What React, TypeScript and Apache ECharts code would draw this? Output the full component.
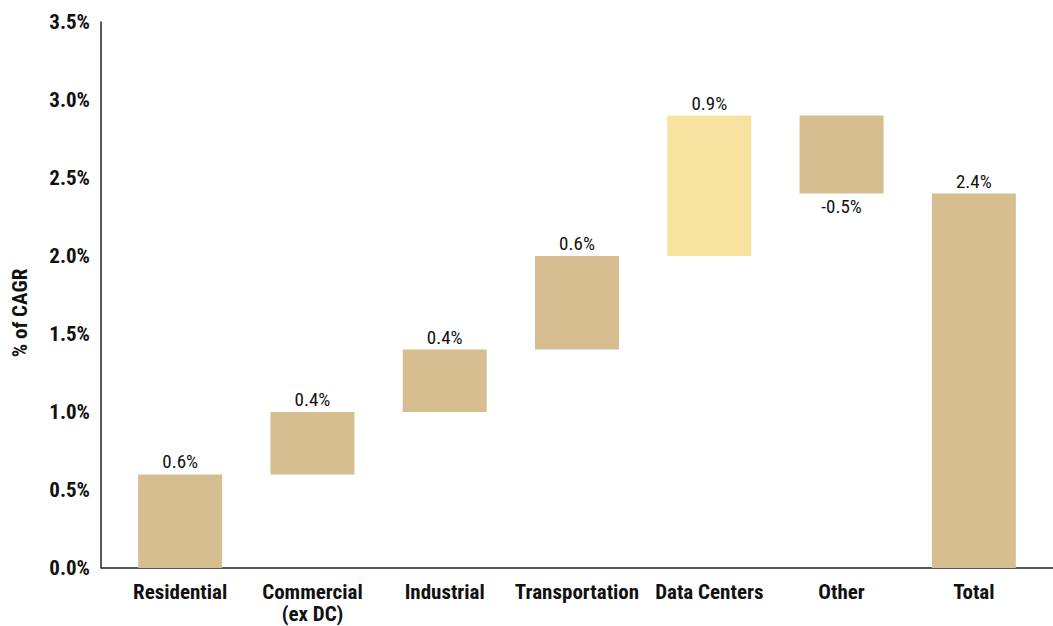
import React, { useEffect, useRef } from "react";
import * as echarts from "echarts";

const categories = ["Residential", "Commercial\n(ex DC)", "Industrial", "Transportation", "Data Centers", "Other", "Total"];
const changes = [0.6, 0.4, 0.4, 0.6, 0.9, -0.5];
const total = 2.4;
const yTicks = [0, 0.5, 1.0, 1.5, 2.0, 2.5, 3.0, 3.5];

const TAN = "#D7BE91";
const YELLOW = "#F7E2A0";
const FONT = "'Roboto Condensed', 'Arial Narrow', Roboto, sans-serif";

export default function App() {
  const ref = useRef<HTMLDivElement>(null);
  useEffect(() => {
    if (!ref.current) return;
    const chart = echarts.init(ref.current, null, { renderer: "svg" });
    const base: number[] = [];
    const vis: number[] = [];
    const labels: number[] = [];
    let run = 0;
    changes.forEach((c) => {
      const next = run + c;
      base.push(Math.min(run, next));
      vis.push(Math.abs(c));
      labels.push(c);
      run = next;
    });
    base.push(0);
    vis.push(total);
    labels.push(total);

    chart.setOption({
      animation: false,
      grid: { left: 114, right: 13, top: 22, bottom: 58 },
      xAxis: {
        type: "category",
        data: categories,
        axisLine: { show: false },
        axisTick: { show: false },
        axisLabel: {
          interval: 0,
          color: "#111",
          fontFamily: FONT,
          fontWeight: "bold",
          fontSize: 21,
          lineHeight: 22,
          margin: 13,
        },
      },
      yAxis: {
        type: "value",
        min: 0,
        max: 3.5,
        interval: 0.5,
        offset: 13,
        splitLine: { show: false },
        axisLine: { show: true, lineStyle: { color: "#222", width: 1.5 } },
        axisTick: { show: false },
        axisLabel: {
          color: "#111",
          fontFamily: FONT,
          fontWeight: "bold",
          fontSize: 21,
          margin: 11,
          formatter: (v: number) => yTicks.includes(v) ? v.toFixed(1) + "%" : "",
        },
      },
      graphic: [
        {
          type: "line",
          shape: { x1: 101, y1: 568, x2: 1053, y2: 568 },
          style: { stroke: "#222", lineWidth: 1.5 },
        },
        {
          type: "text",
          x: 20,
          y: 313,
          rotation: Math.PI / 2,
          style: {
            text: "% of CAGR",
            fill: "#111",
            font: "bold 21px " + FONT,
            align: "center",
            verticalAlign: "middle",
          },
        },
      ],
      series: [
        {
          type: "bar",
          stack: "w",
          data: base,
          barWidth: 84,
          itemStyle: { color: "transparent" },
          silent: true,
        },
        {
          type: "bar",
          stack: "w",
          barWidth: 84,
          data: vis.map((v, i) => ({
            value: v,
            itemStyle: { color: i === 4 ? YELLOW : TAN },
            label: { position: labels[i] < 0 ? "bottom" : "top" },
          })),
          label: {
            show: true,
            color: "#111",
            fontFamily: FONT,
            fontSize: 19,
            distance: 3,
            formatter: (p: any) => labels[p.dataIndex].toFixed(1) + "%",
          },
        },
      ],
    });
    return () => chart.dispose();
  }, []);
  return <div ref={ref} style={{ width: 1053, height: 626, position: "absolute", left: 0, top: 0 }} />;
}
